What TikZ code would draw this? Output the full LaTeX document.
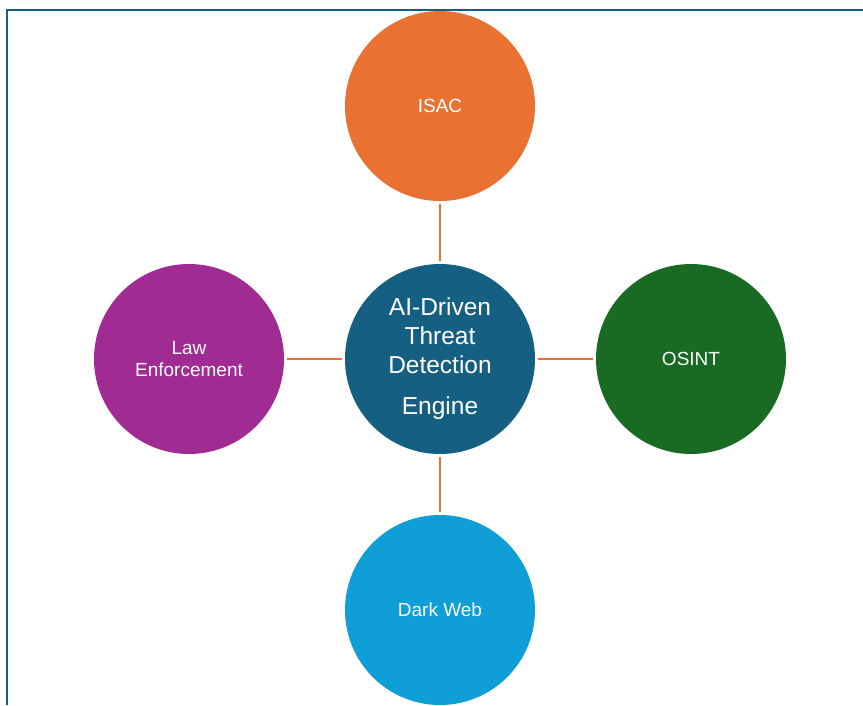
\documentclass[tikz,border=0pt]{standalone}
\usepackage{fontspec}
\setmainfont{Liberation Sans}
\usepackage{tikz}

\definecolor{engineblue}{HTML}{156082}
\definecolor{isacorange}{HTML}{E97132}
\definecolor{osintgreen}{HTML}{196B24}
\definecolor{darkwebblue}{HTML}{0F9ED5}
\definecolor{lawpurple}{HTML}{A02B93}

\begin{document}
\begin{tikzpicture}[x=1pt,y=-1pt,
        source/.style={circle, minimum size=190pt, inner sep=0pt, text=white,
            align=center, font=\fontsize{19}{22.7}\selectfont},
        engine/.style={source, fill=engineblue, font=\fontsize{24.5}{29}\selectfont},
        link/.style={draw=isacorange, line width=2.8pt, shorten >=2.5pt, shorten <=2.5pt}]
            \useasboundingbox (0,0) rectangle (863,705);
            \draw [engineblue, line width=1.6pt] (7,705) -- (7,10) -- (863,10);
            \node [engine] (engine) at (440,359) {AI-Driven\\Threat\\Detection\\[12pt]Engine};
            \node [source, fill=isacorange] (isac) at (440,106) {ISAC};
            \node [source, fill=osintgreen] (osint) at (691,359) {OSINT};
            \node [source, fill=darkwebblue] (darkweb) at (440,610) {Dark Web};
            \node [source, fill=lawpurple] (law) at (189,359) {Law\\Enforcement};
            \draw [link] (isac) -- (engine);
            \draw [link] (engine) -- (osint);
            \draw [link] (engine) -- (darkweb);
            \draw [link] (law) -- (engine);
        \end{tikzpicture}
\end{document}
